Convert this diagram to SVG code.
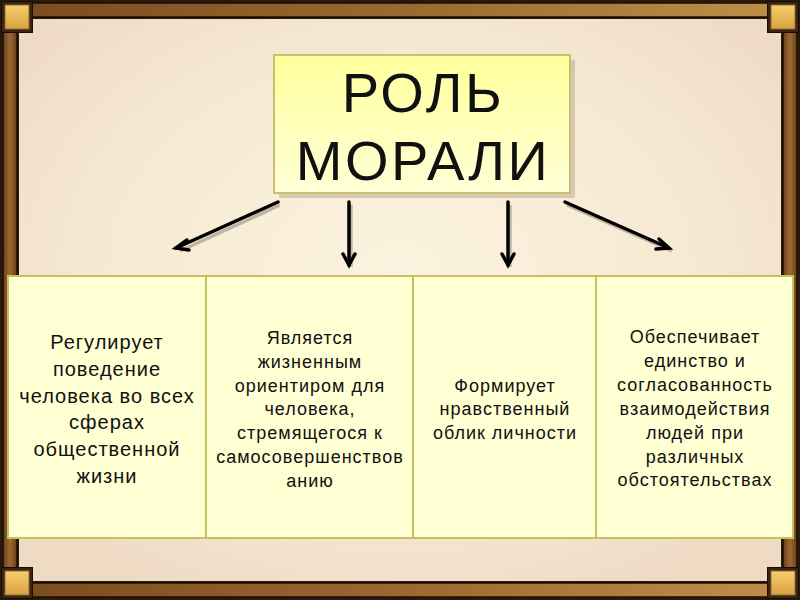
<svg xmlns="http://www.w3.org/2000/svg" width="800" height="600" viewBox="0 0 800 600">
<style>
.cell{fill:#FFFFD4;stroke:#C5C060;stroke-width:2}
.t{font-family:"Liberation Sans",Arial,sans-serif;fill:#111;text-anchor:middle}
.c1{font-size:20px;letter-spacing:1px}
.c2{font-size:18px;letter-spacing:1px}
.big{font-size:56px;letter-spacing:2.5px}
.arr{fill:none;stroke:#000;stroke-width:3.5;stroke-linecap:round;stroke-linejoin:miter}
.sh{fill:none;stroke:#9a9080;stroke-width:3.5;opacity:0.6}
</style>
<defs>
<radialGradient id="bg" cx="50%" cy="45%" r="65%">
<stop offset="0" stop-color="#FBF3DF"/>
<stop offset="0.6" stop-color="#F6E9D2"/>
<stop offset="1" stop-color="#EFDAC4"/>
</radialGradient>
<linearGradient id="barH" x1="0" y1="0" x2="1" y2="0">
<stop offset="0" stop-color="#7A4A1E"/>
<stop offset="0.5" stop-color="#9A6830"/>
<stop offset="1" stop-color="#C0904A"/>
</linearGradient>
<linearGradient id="barV" x1="0" y1="0" x2="1" y2="0">
<stop offset="0" stop-color="#6A3E18"/>
<stop offset="0.5" stop-color="#9C6A34"/>
<stop offset="1" stop-color="#6A3E18"/>
</linearGradient>
<linearGradient id="gold" x1="0" y1="0" x2="0" y2="1">
<stop offset="0" stop-color="#F5D070"/>
<stop offset="1" stop-color="#D9A040"/>
</linearGradient>
<linearGradient id="title" x1="0" y1="0" x2="0" y2="1">
<stop offset="0" stop-color="#FFFF9C"/>
<stop offset="1" stop-color="#FFFFD6"/>
</linearGradient>
</defs>
<g id="background">
<rect width="800" height="600" fill="#2a1a0c"/>
<rect x="19" y="19" width="762" height="562" fill="url(#bg)"/>
<rect x="3" y="3" width="794" height="14" fill="url(#barH)" stroke="#1a0e04" stroke-width="1.5"/>
<rect x="3" y="583" width="794" height="14" fill="url(#barH)" stroke="#1a0e04" stroke-width="1.5"/>
<rect x="3" y="3" width="14" height="594" fill="url(#barV)" stroke="#1a0e04" stroke-width="1.5"/>
<rect x="783" y="3" width="14" height="594" fill="url(#barV)" stroke="#1a0e04" stroke-width="1.5"/>
<rect x="1.5" y="1.5" width="31" height="31" fill="#3a2410" stroke="#1a0e04"/>
<rect x="5" y="5" width="24" height="24" fill="url(#gold)" stroke="#8a6a40"/>
<rect x="767.5" y="1.5" width="31" height="31" fill="#3a2410" stroke="#1a0e04"/>
<rect x="771" y="5" width="24" height="24" fill="url(#gold)" stroke="#8a6a40"/>
<rect x="1.5" y="567.5" width="31" height="31" fill="#3a2410" stroke="#1a0e04"/>
<rect x="5" y="571" width="24" height="24" fill="url(#gold)" stroke="#8a6a40"/>
<rect x="767.5" y="567.5" width="31" height="31" fill="#3a2410" stroke="#1a0e04"/>
<rect x="771" y="571" width="24" height="24" fill="url(#gold)" stroke="#8a6a40"/>
</g>
<g id="title-node">
<rect x="279" y="60" width="296" height="138" fill="#b8a890" opacity="0.5"/>
<rect x="274" y="55" width="296" height="138" fill="url(#title)" stroke="#C8C070" stroke-width="2"/>
<text class="t big" x="423" y="112">РОЛЬ</text>
<text class="t big" x="423" y="180">МОРАЛИ</text>
</g>
<g id="connectors">
<path class="sh" d="M280 205 L180 251 M351 205 V267 M510 205 V267 M567 205 L672 251"/>
<path class="arr" d="M278 202 L176 248"/>
<path class="arr" d="M187 240 L176 248 L189 250"/>
<path class="arr" d="M349 202 V265"/>
<path class="arr" d="M343 254 L349 265 L355 254"/>
<path class="arr" d="M508 202 V265"/>
<path class="arr" d="M502 254 L508 265 L514 254"/>
<path class="arr" d="M565 202 L669 248"/>
<path class="arr" d="M659 239 L669 248 L656 249"/>
</g>
<g id="cell-1">
<rect class="cell" x="8" y="276" width="198" height="262"/>
<text class="t c1"><tspan x="107" y="349">Регулирует</tspan><tspan x="107" y="375.8">поведение</tspan><tspan x="107" y="402.6">человека во всех</tspan><tspan x="107" y="429.4">сферах</tspan><tspan x="107" y="456.2">общественной</tspan><tspan x="107" y="483">жизни</tspan></text>
</g>
<g id="cell-2">
<rect class="cell" x="206" y="276" width="207" height="262"/>
<text class="t c2"><tspan x="310" y="344">Является</tspan><tspan x="310" y="367.8">жизненным</tspan><tspan x="310" y="391.6">ориентиром для</tspan><tspan x="310" y="415.4">человека,</tspan><tspan x="310" y="439.2">стремящегося к</tspan><tspan x="310" y="463">самосовершенствов</tspan><tspan x="310" y="486.8">анию</tspan></text>
</g>
<g id="cell-3">
<rect class="cell" x="413" y="276" width="183" height="262"/>
<text class="t c2"><tspan x="505" y="391.5">Формирует</tspan><tspan x="505" y="415">нравственный</tspan><tspan x="505" y="438.5">облик личности</tspan></text>
</g>
<g id="cell-4">
<rect class="cell" x="596" y="276" width="197" height="262"/>
<text class="t c2"><tspan x="695" y="343">Обеспечивает</tspan><tspan x="695" y="366.9">единство и</tspan><tspan x="695" y="390.8">согласованность</tspan><tspan x="695" y="414.7">взаимодействия</tspan><tspan x="695" y="438.6">людей при</tspan><tspan x="695" y="462.5">различных</tspan><tspan x="695" y="486.4">обстоятельствах</tspan></text>
</g>
</svg>
